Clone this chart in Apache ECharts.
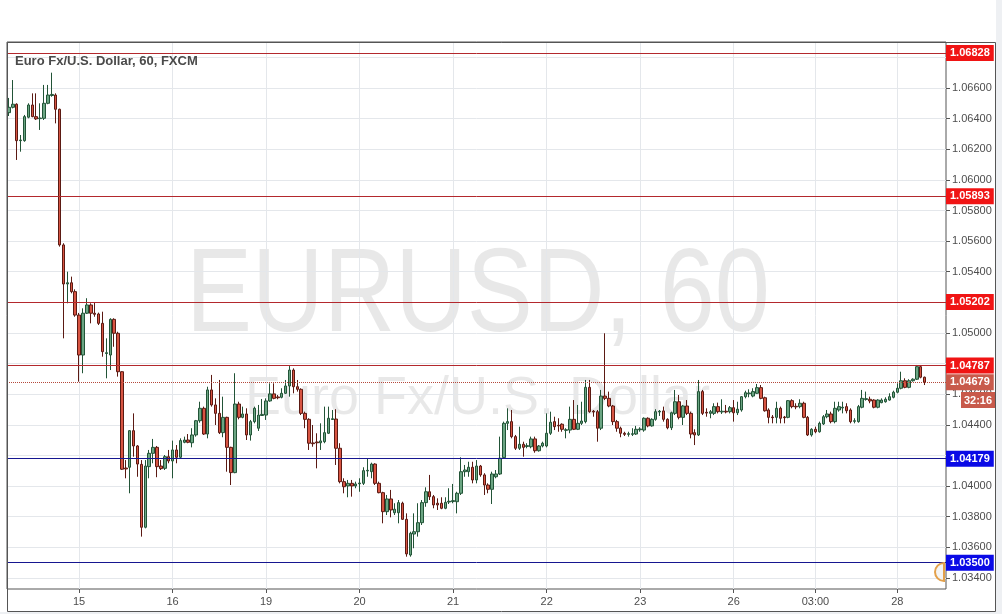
<!DOCTYPE html>
<html><head><meta charset="utf-8">
<script src="https://cdn.jsdelivr.net/npm/echarts@6/dist/echarts.min.js"></script>
<style>html,body{margin:0;padding:0;background:#fff;}#c{width:1002px;height:614px;}</style>
</head><body><div id="c"></div>
<script>
const chartTitle = 'Euro Fx/U.S. Dollar, 60, FXCM';
const watermarkMain = 'EURUSD, 60';
const watermarkSub = 'Euro Fx/U.S. Dollar';
const yTicks = [1.034,1.036,1.038,1.040,1.042,1.044,1.046,1.048,1.050,1.052,1.054,1.056,1.058,1.060,1.062,1.064,1.066,1.068];
const dayLabels = ['15','16','19','20','21','22','23','26','03:00','28'];
const dayLabelIndex = [18,42,66,90,114,138,162,186,207,228];
const slotCount = 241;
const redLevels = [1.06828,1.05893,1.05202,1.04787];
const blueLevels = [1.04179,1.03500];
const lastPrice = 1.04679;
const countdown = '32:16';
// [open, close, low, high]
const ohlc = [
[1.06439,1.06474,1.06417,1.06535],[1.06474,1.06494,1.06467,1.06652],[1.06494,1.06256,1.06130,1.06500],[1.06256,1.06260,1.06184,1.06293],
[1.06256,1.06413,1.06249,1.06424],[1.06409,1.06489,1.06402,1.06500],[1.06489,1.06413,1.06409,1.06565],[1.06413,1.06398,1.06391,1.06565],
[1.06400,1.06404,1.06326,1.06500],[1.06402,1.06500,1.06391,1.06620],[1.06500,1.06554,1.06494,1.06620],[1.06551,1.06558,1.06543,1.06700],
[1.06554,1.06461,1.06369,1.06565],[1.06461,1.05575,1.05564,1.06465],[1.05575,1.05320,1.04965,1.05586],[1.05320,1.05328,1.05194,1.05400],
[1.05328,1.05270,1.05259,1.05368],[1.05270,1.05117,1.05106,1.05285],[1.05117,1.04856,1.04682,1.05131],[1.04856,1.05129,1.04737,1.05161],
[1.05129,1.05183,1.05124,1.05227],[1.05183,1.05129,1.05063,1.05194],[1.05129,1.05122,1.05106,1.05196],[1.05124,1.05063,1.05052,1.05133],
[1.05063,1.04878,1.04845,1.05139],[1.04866,1.04871,1.04704,1.04965],[1.04856,1.05089,1.04758,1.05096],[1.05089,1.04998,1.04910,1.05096],
[1.04998,1.04747,1.04715,1.05008],[1.04747,1.04110,1.04105,1.04750],[1.04118,1.04112,1.04051,1.04170],[1.04123,1.04362,1.03953,1.04366],
[1.04362,1.04262,1.04192,1.04475],[1.04262,1.04144,1.04061,1.04268],[1.04142,1.03731,1.03670,1.04170],[1.03731,1.04131,1.03724,1.04170],
[1.04127,1.04214,1.04051,1.04236],[1.04214,1.04253,1.04149,1.04308],[1.04253,1.04127,1.04058,1.04262],[1.04131,1.04114,1.04105,1.04170],
[1.04116,1.04192,1.04105,1.04203],[1.04192,1.04164,1.04149,1.04236],[1.04164,1.04236,1.04051,1.04297],[1.04236,1.04188,1.04149,1.04268],
[1.04188,1.04297,1.04182,1.04312],[1.04286,1.04301,1.04280,1.04323],[1.04301,1.04286,1.04280,1.04340],[1.04283,1.04334,1.04253,1.04378],
[1.04334,1.04427,1.04323,1.04432],[1.04427,1.04508,1.04414,1.04551],[1.04508,1.04340,1.04334,1.04519],[1.04340,1.04628,1.04312,1.04649],
[1.04628,1.04530,1.04519,1.04726],[1.04530,1.04475,1.04399,1.04573],[1.04475,1.04349,1.04340,1.04693],[1.04349,1.04449,1.04319,1.04584],
[1.04449,1.04253,1.04094,1.04453],[1.04253,1.04088,1.04007,1.04257],[1.04088,1.04536,1.04084,1.04737],[1.04536,1.04449,1.04436,1.04551],
[1.04449,1.04471,1.04443,1.04519],[1.04471,1.04334,1.04301,1.04508],[1.04334,1.04421,1.04297,1.04432],[1.04421,1.04508,1.04410,1.04519],
[1.04378,1.04464,1.04360,1.04530],[1.04461,1.04468,1.04458,1.04569],[1.04464,1.04556,1.04432,1.04573],[1.04556,1.04602,1.04551,1.04671],
[1.04602,1.04573,1.04567,1.04671],[1.04582,1.04577,1.04567,1.04595],[1.04580,1.04606,1.04573,1.04639],[1.04606,1.04654,1.04602,1.04693],
[1.04654,1.04758,1.04584,1.04784],[1.04758,1.04649,1.04606,1.04769],[1.04649,1.04632,1.04617,1.04693],[1.04632,1.04475,1.04464,1.04639],
[1.04475,1.04436,1.04378,1.04486],[1.04436,1.04280,1.04236,1.04443],[1.04282,1.04277,1.04257,1.04399],[1.04288,1.04283,1.04116,1.04345],
[1.04283,1.04295,1.04236,1.04410],[1.04290,1.04349,1.04280,1.04519],[1.04345,1.04443,1.04340,1.04519],[1.04435,1.04440,1.04432,1.04497],
[1.04438,1.04247,1.04138,1.04502],[1.04247,1.04029,1.04018,1.04280],[1.04029,1.03996,1.03953,1.04051],[1.04001,1.04018,1.03927,1.04040],
[1.04018,1.04001,1.03931,1.04040],[1.04001,1.04014,1.03986,1.04029],[1.04015,1.04020,1.03963,1.04051],[1.04018,1.04101,1.04007,1.04123],
[1.04099,1.04103,1.04061,1.04182],[1.04094,1.04144,1.04051,1.04153],[1.04144,1.04018,1.04007,1.04149],[1.04018,1.03957,1.03953,1.04029],
[1.03957,1.03833,1.03757,1.03963],[1.03833,1.03916,1.03811,1.03942],[1.03916,1.03844,1.03796,1.03975],[1.03826,1.03849,1.03811,1.03888],
[1.03826,1.03892,1.03757,1.03909],[1.03888,1.03783,1.03779,1.03898],[1.03783,1.03557,1.03539,1.03822],[1.03550,1.03692,1.03539,1.03702],
[1.03687,1.03702,1.03594,1.03822],[1.03702,1.03761,1.03670,1.03888],[1.03761,1.03892,1.03746,1.03909],[1.03892,1.03963,1.03865,1.03992],
[1.03963,1.03931,1.03909,1.04073],[1.03931,1.03877,1.03855,1.03942],[1.03888,1.03877,1.03844,1.03920],[1.03888,1.03855,1.03849,1.03927],
[1.03855,1.03894,1.03849,1.03927],[1.03896,1.03901,1.03883,1.03986],[1.03899,1.03905,1.03888,1.04014],[1.03898,1.03953,1.03822,1.03963],
[1.03953,1.04094,1.03942,1.04188],[1.04094,1.04105,1.04061,1.04138],[1.04094,1.04123,1.04061,1.04159],[1.04123,1.04040,1.04018,1.04159],
[1.04040,1.04131,1.04018,1.04170],[1.04131,1.04073,1.04061,1.04138],[1.04073,1.04007,1.03942,1.04084],[1.04007,1.03979,1.03953,1.04018],
[1.03979,1.04079,1.03883,1.04094],[1.04061,1.04079,1.04051,1.04105],[1.04079,1.04182,1.04073,1.04323],[1.04186,1.04410,1.04182,1.04421],
[1.04410,1.04421,1.04366,1.04508],[1.04421,1.04323,1.04312,1.04497],[1.04323,1.04247,1.04236,1.04334],[1.04247,1.04273,1.04236,1.04388],
[1.04273,1.04253,1.04192,1.04290],[1.04259,1.04264,1.04247,1.04280],[1.04257,1.04308,1.04247,1.04323],[1.04308,1.04231,1.04218,1.04323],
[1.04231,1.04262,1.04225,1.04268],[1.04262,1.04280,1.04253,1.04290],[1.04262,1.04345,1.04253,1.04475],[1.04345,1.04417,1.04334,1.04486],
[1.04421,1.04388,1.04366,1.04453],[1.04397,1.04393,1.04355,1.04443],[1.04404,1.04371,1.04355,1.04410],[1.04364,1.04368,1.04312,1.04378],
[1.04366,1.04436,1.04345,1.04519],[1.04436,1.04371,1.04366,1.04562],[1.04371,1.04410,1.04366,1.04530],[1.04410,1.04425,1.04399,1.04551],
[1.04421,1.04645,1.04410,1.04693],[1.04645,1.04486,1.04479,1.04693],[1.04489,1.04484,1.04453,1.04497],[1.04486,1.04378,1.04290,1.04497],
[1.04378,1.04588,1.04366,1.04628],[1.04588,1.04573,1.04562,1.04998],[1.04573,1.04523,1.04515,1.04617],[1.04523,1.04421,1.04399,1.04530],
[1.04421,1.04378,1.04355,1.04432],[1.04378,1.04345,1.04319,1.04388],[1.04345,1.04338,1.04327,1.04355],[1.04338,1.04342,1.04323,1.04355],
[1.04338,1.04342,1.04327,1.04378],[1.04340,1.04371,1.04334,1.04393],[1.04368,1.04373,1.04355,1.04384],[1.04366,1.04443,1.04355,1.04449],
[1.04443,1.04393,1.04384,1.04449],[1.04393,1.04436,1.04388,1.04443],[1.04436,1.04486,1.04427,1.04502],[1.04484,1.04489,1.04458,1.04497],
[1.04491,1.04436,1.04421,1.04519],[1.04436,1.04381,1.04371,1.04443],[1.04381,1.04479,1.04366,1.04486],[1.04475,1.04551,1.04464,1.04628],
[1.04551,1.04449,1.04436,1.04595],[1.04449,1.04523,1.04399,1.04530],[1.04523,1.04475,1.04464,1.04562],[1.04475,1.04340,1.04312,1.04486],
[1.04349,1.04334,1.04268,1.04371],[1.04334,1.04617,1.04327,1.04693],[1.04617,1.04475,1.04464,1.04628],[1.04482,1.04477,1.04453,1.04508],
[1.04475,1.04486,1.04443,1.04497],[1.04475,1.04519,1.04464,1.04541],[1.04519,1.04486,1.04475,1.04545],[1.04484,1.04489,1.04471,1.04567],
[1.04489,1.04484,1.04475,1.04530],[1.04486,1.04512,1.04475,1.04523],[1.04512,1.04479,1.04421,1.04562],[1.04479,1.04502,1.04464,1.04551],
[1.04497,1.04584,1.04486,1.04588],[1.04584,1.04610,1.04573,1.04623],[1.04603,1.04608,1.04580,1.04632],[1.04588,1.04617,1.04580,1.04639],
[1.04606,1.04643,1.04602,1.04667],[1.04643,1.04573,1.04567,1.04660],[1.04577,1.04492,1.04486,1.04584],[1.04497,1.04449,1.04410,1.04508],
[1.04451,1.04447,1.04410,1.04464],[1.04449,1.04508,1.04410,1.04551],[1.04508,1.04443,1.04410,1.04519],[1.04451,1.04447,1.04410,1.04458],
[1.04449,1.04558,1.04443,1.04562],[1.04558,1.04519,1.04508,1.04567],[1.04521,1.04517,1.04502,1.04541],[1.04519,1.04541,1.04508,1.04567],
[1.04541,1.04449,1.04443,1.04551],[1.04449,1.04334,1.04327,1.04458],[1.04334,1.04371,1.04323,1.04378],[1.04371,1.04355,1.04345,1.04388],
[1.04355,1.04410,1.04349,1.04421],[1.04406,1.04453,1.04399,1.04464],[1.04453,1.04471,1.04443,1.04497],[1.04471,1.04421,1.04410,1.04486],
[1.04421,1.04508,1.04410,1.04551],[1.04497,1.04519,1.04486,1.04551],[1.04510,1.04515,1.04475,1.04551],[1.04519,1.04492,1.04475,1.04541],
[1.04497,1.04421,1.04410,1.04508],[1.04423,1.04427,1.04410,1.04443],[1.04421,1.04519,1.04414,1.04530],[1.04515,1.04573,1.04508,1.04628],
[1.04566,1.04571,1.04558,1.04617],[1.04567,1.04556,1.04541,1.04584],[1.04562,1.04515,1.04508,1.04567],[1.04515,1.04562,1.04508,1.04567],
[1.04545,1.04562,1.04541,1.04573],[1.04551,1.04567,1.04545,1.04580],[1.04562,1.04584,1.04558,1.04606],[1.04580,1.04613,1.04573,1.04623],
[1.04613,1.04639,1.04606,1.04671],[1.04639,1.04688,1.04632,1.04747],[1.04688,1.04645,1.04639,1.04704],[1.04645,1.04688,1.04639,1.04698],
[1.04688,1.04698,1.04682,1.04704],[1.04698,1.04780,1.04693,1.04791],[1.04780,1.04711,1.04704,1.04791],[1.04711,1.04679,1.04660,1.04715]
];

const categories = Array.from({length: slotCount}, (_, i) => String(i));
const isDay = (i) => dayLabelIndex.indexOf(i) >= 0;
const FONT = '"Liberation Sans", Arial, sans-serif';

function levelLine(v, lineColor, boxColor, dashed) {
  return {
    yAxis: v,
    lineStyle: { color: lineColor, width: 1, type: dashed ? 'dotted' : 'solid' },
    label: {
      show: true, position: 'end', distance: 0,
      formatter: v.toFixed(5),
      backgroundColor: boxColor, color: '#fff', fontWeight: 'bold',
      fontSize: 11, fontFamily: FONT, padding: [3, 4, 2, 4]
    }
  };
}

const lines = [];
redLevels.forEach(v => lines.push(levelLine(v, '#b3282d', '#f01414', false)));
blueLevels.forEach(v => lines.push(levelLine(v, '#161690', '#0a0ae6', false)));
lines.push(levelLine(lastPrice, '#b5493c', '#c85a4b', true));

const chart = echarts.init(document.getElementById('c'), null, { renderer: 'canvas' });
chart.setOption({
  animation: false,
  backgroundColor: '#ffffff',
  textStyle: { fontFamily: FONT },
  grid: { left: 7, right: 56, top: 42, bottom: 25, show: true, borderColor: '#555', borderWidth: 1, backgroundColor: 'transparent' },
  xAxis: {
    type: 'category', data: categories, boundaryGap: true,
    axisLine: { show: false },
    axisTick: { show: true, alignWithLabel: true, interval: (i) => isDay(i), length: 4, lineStyle: { color: '#555' } },
    axisLabel: {
      interval: (i) => isDay(i), color: '#4d4d4d', fontSize: 11, margin: 7,
      formatter: (v) => { const k = dayLabelIndex.indexOf(+v); return k >= 0 ? dayLabels[k] : ''; }
    },
    splitLine: { show: true, alignWithLabel: true, interval: (i) => isDay(i), lineStyle: { color: '#e4e7eb' } }
  },
  yAxis: {
    type: 'value', position: 'right', min: 1.033279, max: 1.069004, scale: true,
    axisLine: { show: false },
    axisTick: { show: true, length: 4, customValues: yTicks, lineStyle: { color: '#555' } },
    axisLabel: { customValues: yTicks, formatter: (v) => v.toFixed(5), color: '#4d4d4d', fontSize: 11, margin: 6 },
    splitLine: { show: true, lineStyle: { color: '#e4e7eb' } }
  },
  series: [{
    type: 'candlestick', data: ohlc, barWidth: 3,
    itemStyle: { color: '#6ba583', color0: '#d75442', borderColor: '#225437', borderColor0: '#5b1a13', borderWidth: 1 },
    markLine: { symbol: ['none', 'none'], silent: true, animation: false, precision: 5, data: lines }
  }]
});

const yLast = chart.convertToPixel({ yAxisIndex: 0 }, lastPrice);
chart.setOption({
  graphic: [
    { type: 'rect', z: -20, silent: true, shape: { x: 996, y: 0, width: 6, height: 614 }, style: { fill: '#eef0f3' } },
    { type: 'rect', z: -20, silent: true, shape: { x: 0, y: 612, width: 1002, height: 2 }, style: { fill: '#eef0f3' } },
    { type: 'text', z: -10, silent: true, x: 186, y: 298, scaleX: 0.84,
      style: { text: watermarkMain, font: '118px ' + FONT, fill: 'rgba(0,0,0,0.09)', align: 'left', verticalAlign: 'middle' } },
    { type: 'text', z: -10, silent: true, x: 245, y: 399,
      style: { text: watermarkSub, font: '54px ' + FONT, fill: 'rgba(0,0,0,0.09)', align: 'left', verticalAlign: 'middle' } },
    { type: 'rect', z: 50, silent: true, shape: { x: 7.5, y: 42.5, width: 988, height: 569 }, style: { fill: 'none', stroke: '#555', lineWidth: 1 } },
    { type: 'text', z: 60, silent: true, x: 15, y: 61,
      style: { text: chartTitle, font: 'bold 13px ' + FONT, fill: '#4a4a4a', align: 'left', verticalAlign: 'middle' } },
    { type: 'sector', z: 40, silent: true, shape: { cx: 944, cy: 572, r0: 0, r: 9, startAngle: Math.PI / 2, endAngle: Math.PI * 1.5, clockwise: true },
      style: { fill: '#f4f4f4', stroke: '#e3a04a', lineWidth: 2 } },
    { type: 'rect', z: 60, silent: true, shape: { x: 961, y: Math.round(yLast) + 10, width: 34, height: 16 }, style: { fill: '#c85a4b' } },
    { type: 'text', z: 61, silent: true, x: 978, y: Math.round(yLast) + 18.5,
      style: { text: countdown, font: 'bold 11px ' + FONT, fill: '#fff', align: 'center', verticalAlign: 'middle' } }
  ]
});
</script>
</body></html>
